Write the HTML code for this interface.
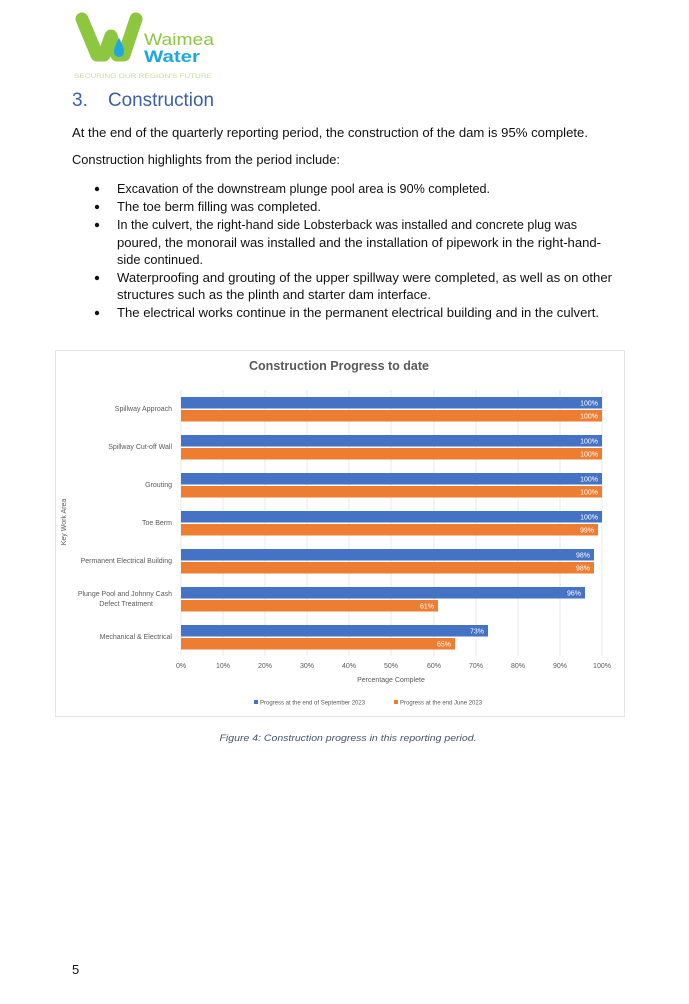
<!DOCTYPE html>
<html><head><meta charset="utf-8"><style>
html,body{margin:0;padding:0;background:#fff;}
svg{display:block;font-family:"Liberation Sans",sans-serif;}
</style></head><body>
<svg width="689" height="1004" viewBox="0 0 689 1004" xmlns="http://www.w3.org/2000/svg">
<!-- logo -->
<path d="M82 19 L97 55 L104 55 L111 36 L117 55 L124 55 L136 19" fill="none" stroke="#8dc63f" stroke-width="13" stroke-linecap="round" stroke-linejoin="round"/>
<path d="M119 38 Q114 47 114 52 a5 5 0 0 0 10 0 Q124 47 119 38Z" fill="#1ea7e1"/>
<text x="144" y="45" font-size="17" fill="#8dc63f" textLength="70" lengthAdjust="spacingAndGlyphs">Waimea</text>
<text x="144" y="62" font-size="17" font-weight="bold" fill="#1ea7e1" textLength="56" lengthAdjust="spacingAndGlyphs">Water</text>
<text x="74" y="78" font-size="6" fill="#c5dd9b" textLength="138" lengthAdjust="spacingAndGlyphs">SECURING OUR REGION'S FUTURE</text>
<!-- heading -->
<text x="72" y="106" font-size="19" fill="#3b5ea8">3.</text>
<text x="108" y="106" font-size="19" fill="#3b5ea8" textLength="106" lengthAdjust="spacingAndGlyphs">Construction</text>
<!-- body -->
<g font-size="13" fill="#111">
<text x="72" y="137" textLength="516" lengthAdjust="spacingAndGlyphs">At the end of the quarterly reporting period, the construction of the dam is 95% complete.</text>
<text x="72" y="164" textLength="268" lengthAdjust="spacingAndGlyphs">Construction highlights from the period include:</text>
<g fill="#111"><circle cx="97" cy="189" r="2.2"/><circle cx="97" cy="207" r="2.2"/><circle cx="97" cy="225" r="2.2"/><circle cx="97" cy="278" r="2.2"/><circle cx="97" cy="313" r="2.2"/></g>
<text x="117" y="193" textLength="373" lengthAdjust="spacingAndGlyphs">Excavation of the downstream plunge pool area is 90% completed.</text>
<text x="117" y="211" textLength="204" lengthAdjust="spacingAndGlyphs">The toe berm filling was completed.</text>
<text x="117" y="229" textLength="460" lengthAdjust="spacingAndGlyphs">In the culvert, the right-hand side Lobsterback was installed and concrete plug was</text>
<text x="117" y="247" textLength="484" lengthAdjust="spacingAndGlyphs">poured, the monorail was installed and the installation of pipework in the right-hand-</text>
<text x="117" y="264" textLength="86" lengthAdjust="spacingAndGlyphs">side continued.</text>
<text x="117" y="282" textLength="495" lengthAdjust="spacingAndGlyphs">Waterproofing and grouting of the upper spillway were completed, as well as on other</text>
<text x="117" y="299" textLength="314" lengthAdjust="spacingAndGlyphs">structures such as the plinth and starter dam interface.</text>
<text x="117" y="317" textLength="482" lengthAdjust="spacingAndGlyphs">The electrical works continue in the permanent electrical building and in the culvert.</text>
</g>
<!-- chart -->
<rect x="55.5" y="350.5" width="569" height="366" fill="#fff" stroke="#e4e4e4"/>
<text x="339" y="370" font-size="13" font-weight="bold" fill="#595959" text-anchor="middle" textLength="180" lengthAdjust="spacingAndGlyphs">Construction Progress to date</text>
<g stroke="#e8e8e8" stroke-width="1">
<line x1="181" y1="390" x2="181" y2="656"/><line x1="223" y1="390" x2="223" y2="656"/><line x1="265" y1="390" x2="265" y2="656"/><line x1="307" y1="390" x2="307" y2="656"/><line x1="349" y1="390" x2="349" y2="656"/><line x1="391" y1="390" x2="391" y2="656"/><line x1="434" y1="390" x2="434" y2="656"/><line x1="476" y1="390" x2="476" y2="656"/><line x1="518" y1="390" x2="518" y2="656"/><line x1="560" y1="390" x2="560" y2="656"/><line x1="602" y1="390" x2="602" y2="656"/>
</g>
<g font-size="7" fill="#fff" text-anchor="end">
<rect x="181" y="397" width="421" height="11.5" fill="#4472c4"/><text x="598" y="405.5">100%</text>
<rect x="181" y="410" width="421" height="11.5" fill="#ed7d31"/><text x="598" y="418.5">100%</text>
<rect x="181" y="435" width="421" height="11.5" fill="#4472c4"/><text x="598" y="443.5">100%</text>
<rect x="181" y="448" width="421" height="11.5" fill="#ed7d31"/><text x="598" y="456.5">100%</text>
<rect x="181" y="473" width="421" height="11.5" fill="#4472c4"/><text x="598" y="481.5">100%</text>
<rect x="181" y="486" width="421" height="11.5" fill="#ed7d31"/><text x="598" y="494.5">100%</text>
<rect x="181" y="511" width="421" height="11.5" fill="#4472c4"/><text x="598" y="519.5">100%</text>
<rect x="181" y="524" width="417" height="11.5" fill="#ed7d31"/><text x="594" y="532.5">99%</text>
<rect x="181" y="549" width="413" height="11.5" fill="#4472c4"/><text x="590" y="557.5">98%</text>
<rect x="181" y="562" width="413" height="11.5" fill="#ed7d31"/><text x="590" y="570.5">98%</text>
<rect x="181" y="587" width="404" height="11.5" fill="#4472c4"/><text x="581" y="595.5">96%</text>
<rect x="181" y="600" width="257" height="11.5" fill="#ed7d31"/><text x="434" y="608.5">61%</text>
<rect x="181" y="625" width="307" height="11.5" fill="#4472c4"/><text x="484" y="633.5">73%</text>
<rect x="181" y="638" width="274" height="11.5" fill="#ed7d31"/><text x="451" y="646.5">65%</text>
</g>
<g font-size="7" fill="#595959" text-anchor="end">
<text x="172" y="411">Spillway Approach</text>
<text x="172" y="449">Spillway Cut-off Wall</text>
<text x="172" y="487">Grouting</text>
<text x="172" y="525">Toe Berm</text>
<text x="172" y="563">Permanent Electrical Building</text>
<text x="172" y="596">Plunge Pool and Johnny Cash</text>
<text x="153" y="606">Defect Treatment</text>
<text x="172" y="639">Mechanical &amp; Electrical</text>
</g>
<g font-size="7" fill="#595959" text-anchor="middle">
<text x="181" y="668">0%</text><text x="223" y="668">10%</text><text x="265" y="668">20%</text><text x="307" y="668">30%</text><text x="349" y="668">40%</text><text x="391" y="668">50%</text><text x="434" y="668">60%</text><text x="476" y="668">70%</text><text x="518" y="668">80%</text><text x="560" y="668">90%</text><text x="602" y="668">100%</text>
<text x="391" y="682">Percentage Complete</text>
</g>
<text x="0" y="0" font-size="7" fill="#595959" text-anchor="middle" transform="translate(66,522) rotate(-90)">Key Work Area</text>
<g font-size="6" fill="#595959">
<rect x="254" y="700" width="4" height="4" fill="#4472c4"/><text x="260" y="704.5">Progress at the end of September 2023</text>
<rect x="394" y="700" width="4" height="4" fill="#ed7d31"/><text x="400" y="704.5">Progress at the end June 2023</text>
</g>
<text x="348" y="741" font-size="9.5" font-style="italic" fill="#44546a" text-anchor="middle" textLength="257" lengthAdjust="spacingAndGlyphs">Figure 4: Construction progress in this reporting period.</text>
<text x="72" y="974" font-size="13" fill="#111">5</text>
</svg>
</body></html>
